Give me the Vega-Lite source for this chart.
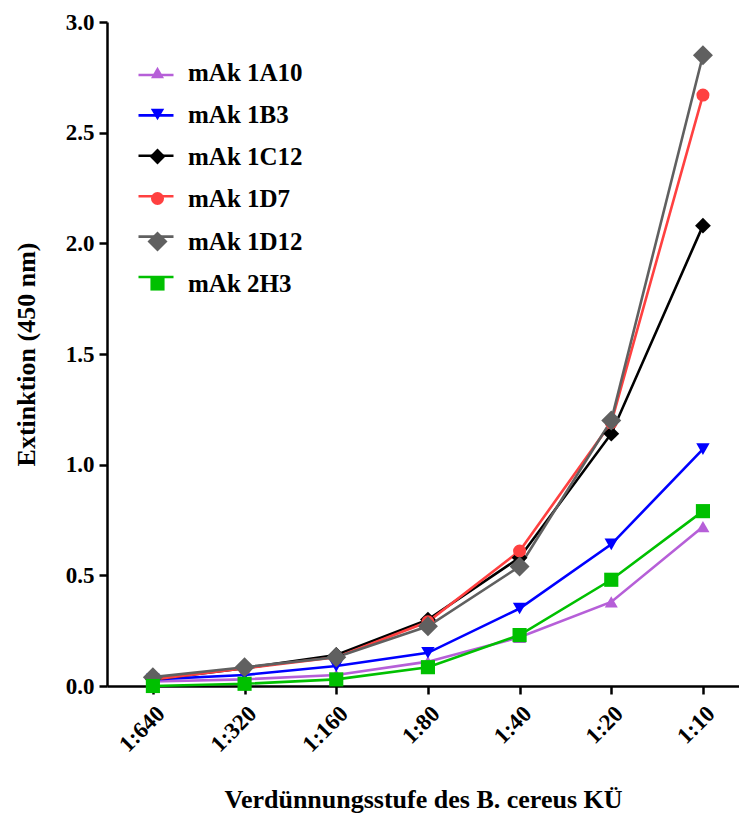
{
  "$schema": "https://vega.github.io/schema/vega-lite/v6.json",
  "width": 632,
  "height": 664,
  "autosize": {"type": "none"},
  "padding": {"left": 107, "top": 22, "right": 0, "bottom": 133},
  "background": "white",
  "config": {
    "view": {"stroke": null},
    "font": "Liberation Serif",
    "axis": {
      "domainColor": "black", "domainWidth": 2.5, "tickColor": "black", "tickWidth": 2.5,
      "tickSize": 8, "labelFont": "Liberation Serif", "labelFontWeight": "bold", "labelFontSize": 23,
      "labelColor": "black", "titleFont": "Liberation Serif", "titleFontWeight": "bold",
      "titleFontSize": 26, "titleColor": "black", "grid": false
    },
    "legend": {
      "labelFont": "Liberation Serif", "labelFontWeight": "bold", "labelFontSize": 25,
      "labelColor": "black", "labelLimit": 300
    }
  },
  "data": {
    "values": [
      {"mAk": "mAk 1A10", "dil": "1:640", "ext": 0.02},
      {"mAk": "mAk 1A10", "dil": "1:320", "ext": 0.03},
      {"mAk": "mAk 1A10", "dil": "1:160", "ext": 0.05},
      {"mAk": "mAk 1A10", "dil": "1:80", "ext": 0.11},
      {"mAk": "mAk 1A10", "dil": "1:40", "ext": 0.22},
      {"mAk": "mAk 1A10", "dil": "1:20", "ext": 0.38},
      {"mAk": "mAk 1A10", "dil": "1:10", "ext": 0.72},
      {"mAk": "mAk 1B3", "dil": "1:640", "ext": 0.03},
      {"mAk": "mAk 1B3", "dil": "1:320", "ext": 0.05},
      {"mAk": "mAk 1B3", "dil": "1:160", "ext": 0.09},
      {"mAk": "mAk 1B3", "dil": "1:80", "ext": 0.15},
      {"mAk": "mAk 1B3", "dil": "1:40", "ext": 0.35},
      {"mAk": "mAk 1B3", "dil": "1:20", "ext": 0.64},
      {"mAk": "mAk 1B3", "dil": "1:10", "ext": 1.07},
      {"mAk": "mAk 1C12", "dil": "1:640", "ext": 0.03},
      {"mAk": "mAk 1C12", "dil": "1:320", "ext": 0.08},
      {"mAk": "mAk 1C12", "dil": "1:160", "ext": 0.14},
      {"mAk": "mAk 1C12", "dil": "1:80", "ext": 0.30},
      {"mAk": "mAk 1C12", "dil": "1:40", "ext": 0.58},
      {"mAk": "mAk 1C12", "dil": "1:20", "ext": 1.14},
      {"mAk": "mAk 1C12", "dil": "1:10", "ext": 2.08},
      {"mAk": "mAk 1D7", "dil": "1:640", "ext": 0.03},
      {"mAk": "mAk 1D7", "dil": "1:320", "ext": 0.08},
      {"mAk": "mAk 1D7", "dil": "1:160", "ext": 0.13},
      {"mAk": "mAk 1D7", "dil": "1:80", "ext": 0.29},
      {"mAk": "mAk 1D7", "dil": "1:40", "ext": 0.61},
      {"mAk": "mAk 1D7", "dil": "1:20", "ext": 1.19},
      {"mAk": "mAk 1D7", "dil": "1:10", "ext": 2.67},
      {"mAk": "mAk 1D12", "dil": "1:640", "ext": 0.04},
      {"mAk": "mAk 1D12", "dil": "1:320", "ext": 0.085},
      {"mAk": "mAk 1D12", "dil": "1:160", "ext": 0.13},
      {"mAk": "mAk 1D12", "dil": "1:80", "ext": 0.27},
      {"mAk": "mAk 1D12", "dil": "1:40", "ext": 0.54},
      {"mAk": "mAk 1D12", "dil": "1:20", "ext": 1.20},
      {"mAk": "mAk 1D12", "dil": "1:10", "ext": 2.85},
      {"mAk": "mAk 2H3", "dil": "1:640", "ext": 0.0},
      {"mAk": "mAk 2H3", "dil": "1:320", "ext": 0.01},
      {"mAk": "mAk 2H3", "dil": "1:160", "ext": 0.03},
      {"mAk": "mAk 2H3", "dil": "1:80", "ext": 0.085},
      {"mAk": "mAk 2H3", "dil": "1:40", "ext": 0.23},
      {"mAk": "mAk 2H3", "dil": "1:20", "ext": 0.48},
      {"mAk": "mAk 2H3", "dil": "1:10", "ext": 0.79}
    ]
  },
  "encoding": {
    "x": {
      "field": "dil", "type": "ordinal",
      "sort": ["1:640", "1:320", "1:160", "1:80", "1:40", "1:20", "1:10"],
      "scale": {"type": "point", "padding": 0.447, "align": 0.56},
      "axis": {"title": "Verdünnungsstufe des  B. cereus  KÜ", "labelAngle": -45, "labelAlign": "right", "labelBaseline": "top", "labelPadding": 8, "titlePadding": 30}
    },
    "y": {
      "field": "ext", "type": "quantitative",
      "scale": {"domain": [0, 3], "nice": false, "zero": true},
      "axis": {"title": "Extinktion (450 nm)", "values": [0, 0.5, 1, 1.5, 2, 2.5, 3], "format": ".1f", "labelPadding": 5, "titlePadding": 26}
    }
  },
  "layer": [
    {
      "mark": {"type": "line", "strokeWidth": 2.6},
      "encoding": {
        "stroke": {
          "field": "mAk", "type": "nominal",
          "scale": {
            "domain": ["mAk 1A10", "mAk 1B3", "mAk 1C12", "mAk 1D7", "mAk 1D12", "mAk 2H3"],
            "range": ["#b65fd8", "#0000ff", "#000000", "#ff4040", "#606060", "#00c000"]
          },
          "legend": {"orient": "none", "legendX": 30, "legendY": 34, "title": null, "symbolType": "stroke", "symbolSize": 1225, "symbolStrokeWidth": 2.6, "labelOpacity": 0, "rowPadding": 8.4, "labelOffset": 16}
        }
      }
    },
    {
      "mark": {"type": "point", "filled": true, "opacity": 1},
      "encoding": {
        "color": {"field": "mAk", "type": "nominal",
          "scale": {
            "domain": ["mAk 1A10", "mAk 1B3", "mAk 1C12", "mAk 1D7", "mAk 1D12", "mAk 2H3"],
            "range": ["#b65fd8", "#0000ff", "#000000", "#ff4040", "#606060", "#00c000"]
          },
          "legend": {"orient": "none", "legendX": 38, "legendY": 38, "title": null, "rowPadding": 16, "labelOffset": 18, "symbolOpacity": 1}},
        "shape": {
          "field": "mAk", "type": "nominal",
          "scale": {
            "domain": ["mAk 1A10", "mAk 1B3", "mAk 1C12", "mAk 1D7", "mAk 1D12", "mAk 2H3"],
            "range": ["triangle-up", "triangle-down", "diamond", "circle", "diamond", "square"]
          },
          "legend": {"orient": "none", "legendX": 38, "legendY": 38, "title": null, "rowPadding": 16, "labelOffset": 18, "symbolOpacity": 1}
        },
        "size": {
          "field": "mAk", "type": "nominal",
          "scale": {
            "type": "ordinal",
            "domain": ["mAk 1A10", "mAk 1B3", "mAk 1C12", "mAk 1D7", "mAk 1D12", "mAk 2H3"],
            "range": [170, 180, 250, 170, 400, 200]
          },
          "legend": {"orient": "none", "legendX": 38, "legendY": 38, "title": null, "rowPadding": 16, "labelOffset": 18, "symbolOpacity": 1}
        }
      }
    }
  ],
  "resolve": {"legend": {"stroke": "independent"}}
}
